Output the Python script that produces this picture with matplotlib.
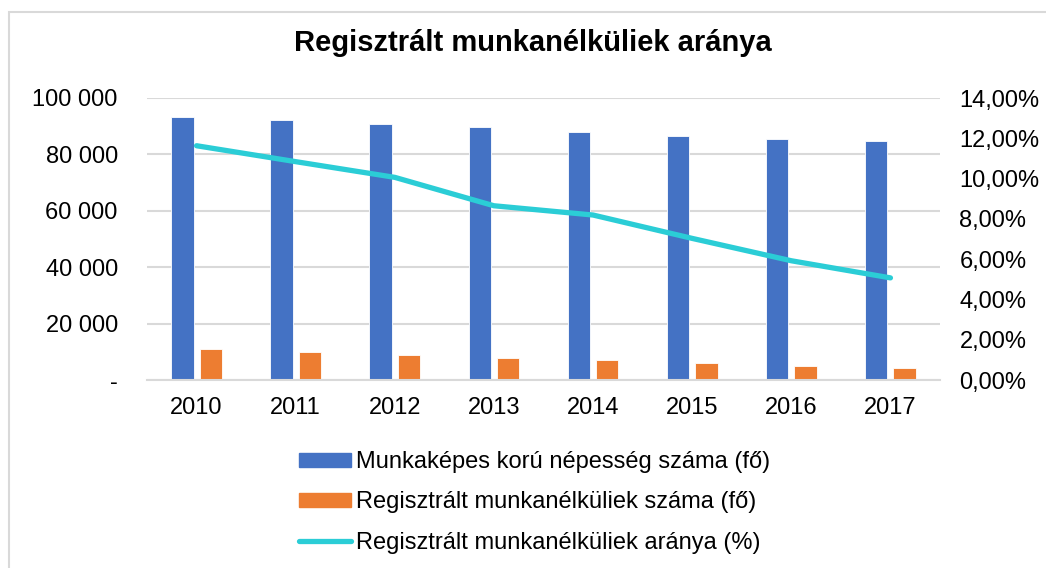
import matplotlib
matplotlib.use("Agg")
import matplotlib.pyplot as plt
import numpy as np
from matplotlib.ticker import FuncFormatter, FixedLocator
from matplotlib.patches import Rectangle
from matplotlib.lines import Line2D

plt.rcParams['font.family'] = ['Liberation Sans', 'DejaVu Sans']

years = ['2010', '2011', '2012', '2013', '2014', '2015', '2016', '2017']
working_age = [93400, 92100, 90900, 89700, 88000, 86700, 85400, 84700]
unemployed = [10900, 9950, 9000, 7700, 7100, 5900, 4900, 4300]
rate = [11.63, 10.84, 10.06, 8.65, 8.19, 7.03, 5.92, 5.07]

title = 'Regisztrált munkanélküliek aránya'
labels = ['Munkaképes korú népesség száma (fő)',
          'Regisztrált munkanélküliek száma (fő)',
          'Regisztrált munkanélküliek aránya (%)']

blue = '#4472C4'
orange = '#ED7D31'
cyan = '#2BCDD6'
grid = '#D9D9D9'
fs = 17

W, H = 1046, 568
fig = plt.figure(figsize=(W / 100, H / 100), dpi=100)
ax = fig.add_axes([147 / W, 1 - 380 / H, (940 - 147) / W, (380 - 98) / H])
ax2 = ax.twinx()

x = np.arange(len(years))
bw = 0.225
off = 0.143
ax.bar(x - off, working_age, bw, color=blue, edgecolor='white', linewidth=0.6, zorder=2)
ax.bar(x + off, unemployed, bw, color=orange, edgecolor='white', linewidth=0.6, zorder=2)
ax2.plot(x, rate, color=cyan, linewidth=3.8, solid_capstyle='round', zorder=3)

ax.set_xlim(-0.5, len(years) - 0.5)
ax.set_ylim(0, 100000)
ax2.set_ylim(0, 14)
ax.yaxis.set_major_locator(FixedLocator(np.arange(0, 100001, 20000)))
ax2.yaxis.set_major_locator(FixedLocator(np.arange(0, 14.01, 2)))

def left_fmt(v, pos):
    if abs(v) < 1e-9:
        return '-'
    return f'{int(round(v)):,}'.replace(',', ' ')

def right_fmt(v, pos):
    return f'{v:.2f}%'.replace('.', ',')

ax.yaxis.set_major_formatter(FuncFormatter(left_fmt))
ax2.yaxis.set_major_formatter(FuncFormatter(right_fmt))
ax.set_xticks(x)
ax.set_xticklabels(years)

ax.grid(axis='y', color=grid, linewidth=1.5, zorder=0)
ax.set_axisbelow(True)
for a in (ax, ax2):
    for s in a.spines.values():
        s.set_visible(False)
ax.spines['bottom'].set_visible(True)
ax.spines['bottom'].set_color(grid)
ax.spines['bottom'].set_linewidth(1.5)

ax.tick_params(axis='y', length=0, pad=21, labelsize=fs, colors='black')
ax.tick_params(axis='x', length=0, pad=12, labelsize=fs, colors='black')
ax2.tick_params(axis='y', length=0, pad=14, labelsize=fs, colors='black')

fig.text(532.5 / W, 1 - 51 / H, title, ha='center', va='baseline',
         fontsize=21, fontweight='bold')

handles = [Rectangle((0, 0), 1, 1, color=blue),
           Rectangle((0, 0), 1, 1, color=orange),
           Line2D([0], [0], color=cyan, linewidth=3.8, solid_capstyle='round')]
fig.legend(handles, labels, loc='upper left', bbox_to_anchor=(299 / W, 1 - 451 / H),
           frameon=False, fontsize=fs, handlelength=2.2, handleheight=0.55,
           handletextpad=0.2, labelspacing=0.78, borderpad=0, borderaxespad=0)

fig.patches.append(Rectangle((8.5 / W, -0.05), 1.1, 1.05 - 11.5 / H,
                             transform=fig.transFigure, fill=False,
                             edgecolor='#D9D9D9', linewidth=1.5))

fig.savefig('out.png', dpi=100)
